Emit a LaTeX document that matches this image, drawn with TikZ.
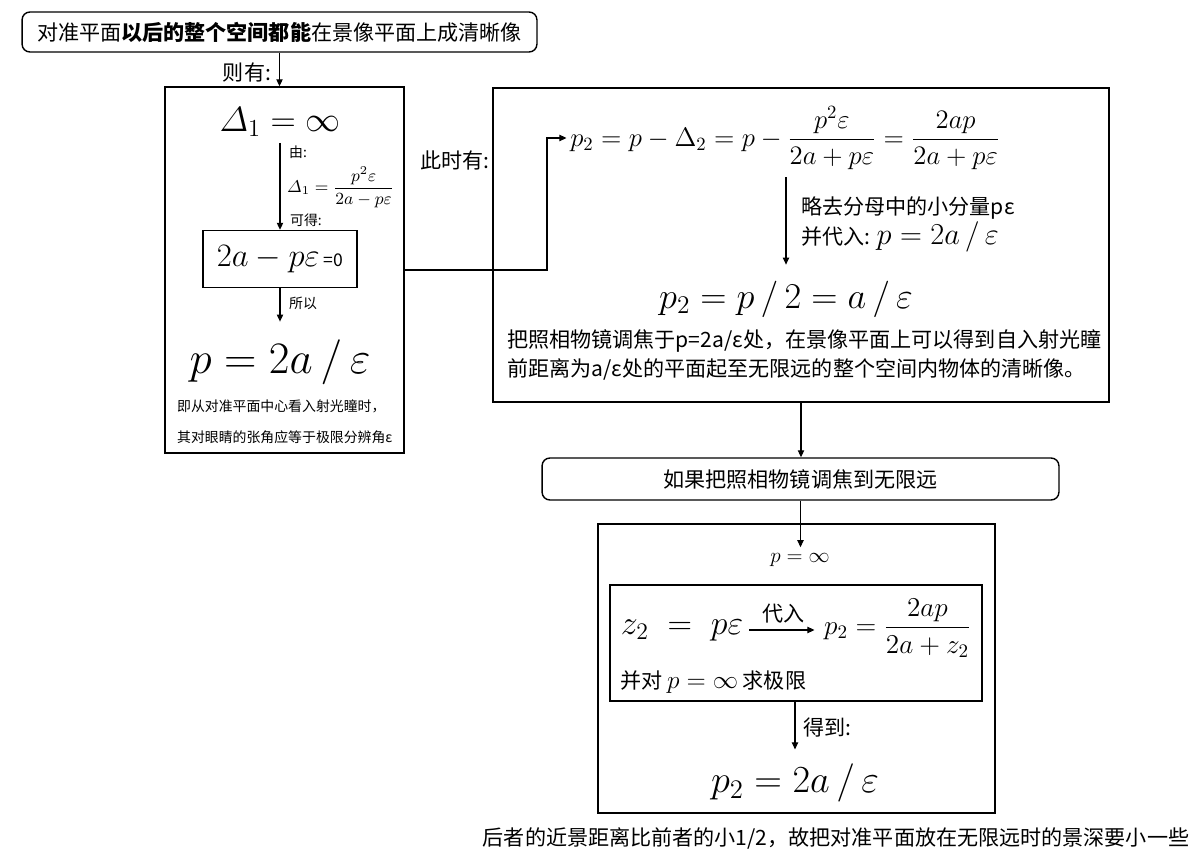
\documentclass[tikz,border=0pt]{standalone}
\usepackage{fix-cm}
\usepackage{amsmath}
\usepackage[no-math]{fontspec}
\setmainfont{Noto Sans CJK SC}
\usetikzlibrary{arrows.meta}
\usetikzlibrary{positioning}
\usetikzlibrary{fit}

\begin{document}
\begin{tikzpicture}[x=0.02cm, y=-0.02cm,
                    box/.style={draw, line width=0.8pt, inner sep=0pt},
                    rounded/.style={draw, line width=0.8pt, rounded corners=4.5pt},
                    arr/.style={-{Triangle[length=4pt,width=3.6pt]}, line width=0.6pt},
                    body/.style={font=\fontsize{12}{17}\selectfont},
                    note/.style={font=\fontsize{7.9}{17.6}\selectfont}]
\useasboundingbox (0,0) rectangle (1201,861);

\node[rounded, body, minimum width=10.3cm, minimum height=0.8cm] (aim) at (279.5,32)
    {对准平面\textbf{以后的整个空间都能}在景像平面上成清晰像};
\node[box, fit={(165,87) (404,453)}] (lbox) {};
\draw[arr] (aim.south) -- (aim.south |- lbox.north);
\node[body] (thenlbl) at (247,73) {则有:};

\node[font=\fontsize{19.9}{24}\selectfont] (d1) at (280,122) {$\varDelta_1=\infty$};
\node[box, minimum width=3.08cm, minimum height=1.14cm] (root) at (280,259)
    {\fontsize{18.6}{22}\selectfont$2a-p\varepsilon$\fontsize{10}{12}\selectfont\ =0};
\draw[arr] (d1.south) -- (root.north);
\node[note, anchor=west] (bylbl) at (283,152) {由:};
\node[font=\fontsize{9.7}{12}\selectfont, anchor=west] (d1frac) at (281,187)
    {$\varDelta_1=\dfrac{p^2\varepsilon}{2a-p\varepsilon}$};
\node[note, anchor=west] (getlbl) at (284,220) {可得:};
\node[font=\fontsize{25.6}{30}\selectfont, inner sep=0pt] (p1) at (280,362) {$p=2a\,/\,\varepsilon$};
\draw[arr, shorten >=10pt] (root.south) -- (p1.north);
\node[note, anchor=west] (solbl) at (283,303) {所以};
\node[note, anchor=west, align=left] (eyenote) at (171,422)
    {即从对准平面中心看入射光瞳时，\\其对眼睛的张角应等于极限分辨角ε};

\node[body] (nowlbl) at (455,160) {此时有:};
\node[box, fit={(493,88) (1109,402)}] (focusbox) {};
\node[font=\fontsize{15.2}{18}\selectfont, anchor=west, inner sep=0pt] (p2eq) at (570,138)
    {$p_2=p-\Delta_2=p-\dfrac{p^2\varepsilon}{2a+p\varepsilon}=\dfrac{2ap}{2a+p\varepsilon}$};
\coordinate (elbow) at (547,268);
\draw[arr, shorten >=2pt] (lbox.east) -| (elbow |- p2eq.west) -- (p2eq.west);
\node[font=\fontsize{20.7}{25}\selectfont, inner sep=0pt] (p2half) at (786,299) {$p_2=p\,/\,2=a\,/\,\varepsilon$};
\draw[arr, shorten <=4pt, shorten >=9pt] (p2half.north |- p2eq.south) -- (p2half.north);
\node[body, anchor=west] (droplbl) at (795,208) {略去分母中的小分量pε};
\node[body, anchor=west] (sublbl) at (795,237) {并代入: {\fontsize{17.3}{20}\selectfont$p=2a\,/\,\varepsilon$}};
\node[body, anchor=west, align=left] (focusnote) at (501,355)
    {把照相物镜调焦于p=2a/ε处，在景像平面上可以得到自入射光瞳\\前距离为a/ε处的平面起至无限远的整个空间内物体的清晰像。};

\node[rounded, body, minimum width=10.34cm, minimum height=0.84cm] (infbox) at (800.5,479)
    {如果把照相物镜调焦到无限远};
\draw[arr] (focusbox.south) -- (focusbox.south |- infbox.north);

\node[box, fit={(598,524) (995,813)}] (limbox) {};
\node[font=\fontsize{12}{15}\selectfont] (pinf) at (800,560) {$p=\infty$};
\draw[arr] (infbox.south) -- (infbox.south |- pinf.north);
\node[box, fit={(610,585) (982,701)}] (subbox) {};
\node[font=\fontsize{19.3}{22}\selectfont] (z2) at (682,630) {$z_2\;=\;p\varepsilon$};
\node[font=\fontsize{15.5}{18}\selectfont, anchor=west] (p2z) at (818,628) {$p_2=\dfrac{2ap}{2a+z_2}$};
\draw[arr, shorten >=2pt] (z2.east) -- (z2.east -| p2z.west) node[midway, above, body] {代入};
\node[body, anchor=west] (limlbl) at (614,682) {并对 {\fontsize{14.4}{18}\selectfont$p=\infty$} 求极限};
\node[font=\fontsize{21.8}{26}\selectfont, inner sep=0pt] (p2fin) at (795,783) {$p_2=2a\,/\,\varepsilon$};
\draw[arr, shorten >=8pt] (subbox.south -| p2fin.north) -- (p2fin.north);
\node[body, anchor=west] (gotlbl) at (797,728) {得到:};

\node[body] (concl) at (836,838) {后者的近景距离比前者的小1/2，故把对准平面放在无限远时的景深要小一些};
\end{tikzpicture}
\end{document}
